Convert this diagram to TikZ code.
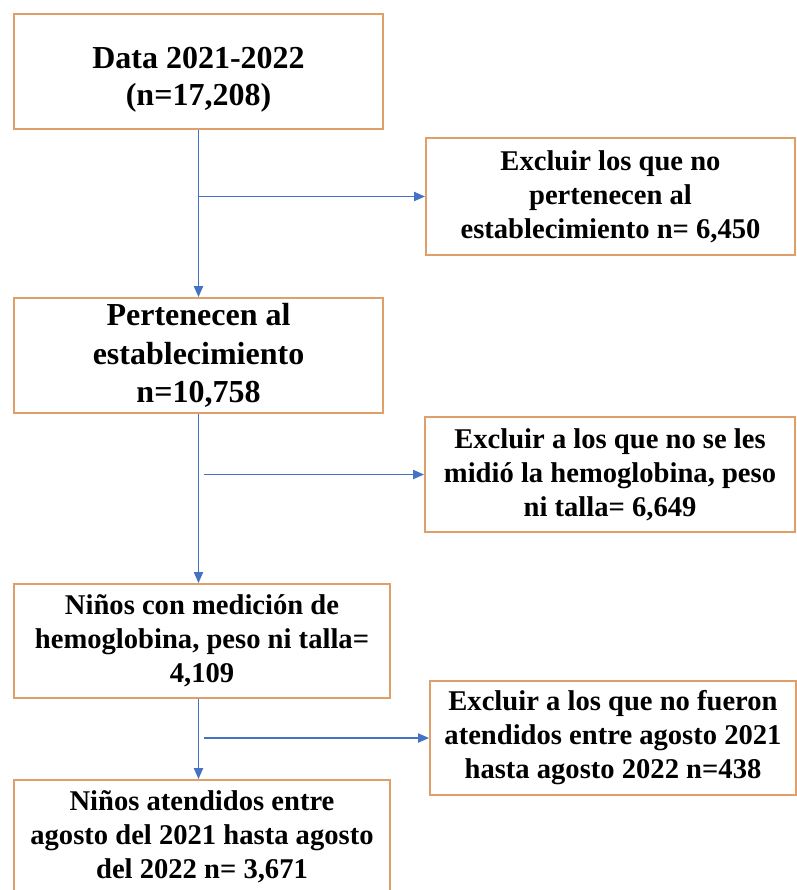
\documentclass[tikz,border=0pt]{standalone}
\usepackage{fontspec}
\setmainfont{Liberation Serif}
\usetikzlibrary{arrows.meta}
\definecolor{boxline}{RGB}{224,158,104}
\definecolor{arrowblue}{RGB}{68,114,196}
\tikzset{
  box/.style={draw=boxline, line width=1.8pt, fill=white, rectangle, align=center, inner sep=0pt},
  bigtxt/.style={font=\fontsize{32}{37}\selectfont\bfseries, align=center},
  smalltxt/.style={font=\fontsize{28.6}{34}\selectfont\bfseries, align=center},
  flow/.style={draw=arrowblue, line width=1.9pt, -{Triangle[length=11pt,width=9pt]}},
}
\begin{document}
\begin{tikzpicture}[x=1pt,y=-1pt]
\useasboundingbox (0,0) rectangle (796,890);
\fill[white] (0,0) rectangle (796,890);
% main column
\node[box, minimum width=369pt, minimum height=115pt] (b1) at (198.5,71.5) {};
\node[bigtxt] (t1) at (198.5,80) {Data 2021-2022\\(n=17,208)};
\node[box, smalltxt, minimum width=369pt, minimum height=117pt] (b2) at (610.5,196.5) {Excluir los que no\\pertenecen al\\establecimiento n= 6,450};
\node[box, minimum width=369pt, minimum height=115pt, font=\fontsize{32}{38.5}\selectfont\bfseries] (b3) at (198.5,355.5) {Pertenecen al\\establecimiento\\n=10,758};
\node[box, smalltxt, minimum width=370pt, minimum height=115pt] (b4) at (610,474.5) {Excluir a los que no se les\\midió la hemoglobina, peso\\ni talla= 6,649};
\node[box, smalltxt, minimum width=376pt, minimum height=114pt] (b5) at (202,641) {Niños con medición de\\hemoglobina, peso ni talla=\\4,109};
\node[box, smalltxt, minimum width=366pt, minimum height=114pt] (b7) at (613,738) {Excluir a los que no fueron\\atendidos entre agosto 2021\\hasta agosto 2022 n=438};
\node[box, minimum width=376pt, minimum height=116pt] (b6) at (202,838) {};
\node[smalltxt] (t6) at (202,837) {Niños atendidos entre\\agosto del 2021 hasta agosto\\del 2022 n= 3,671};
% connectors
\draw[flow] (b1.south) -- (b3.north);
\draw[flow] (b1.south |- b2.west) -- (b2.west);
\draw[flow] (b3.south) -- (b3.south |- b5.north);
\draw[flow] ([xshift=5pt]b3.south |- b4.west) -- (b4.west);
\draw[flow] (b3.south |- b5.south) -- (b3.south |- b6.north);
\draw[flow] ([xshift=5pt]b3.south |- b7.west) -- (b7.west);
\end{tikzpicture}
\end{document}
